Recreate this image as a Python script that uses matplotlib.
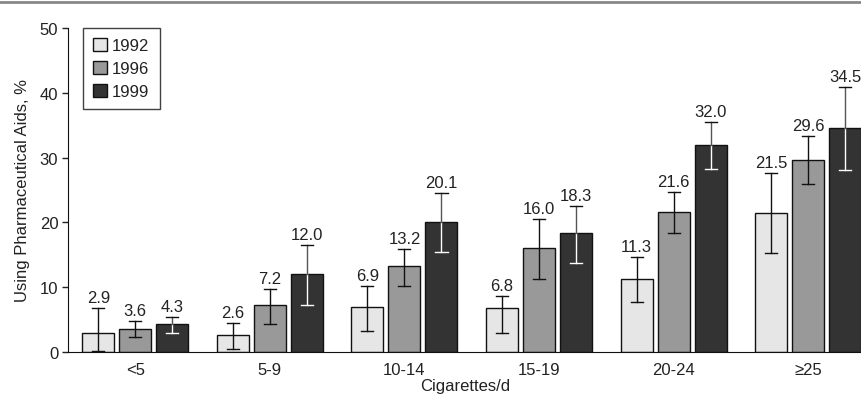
import matplotlib
matplotlib.use("Agg")
import matplotlib.pyplot as plt
import numpy as np
from matplotlib.lines import Line2D
from matplotlib.patches import Patch

plt.rcParams["font.family"] = ["Liberation Sans", "DejaVu Sans"]

categories = ["<5", "5-9", "10-14", "15-19", "20-24", "≥25"]
years = ["1992", "1996", "1999"]

pct_1992 = [2.9, 2.6, 6.9, 6.8, 11.3, 21.5]
pct_1996 = [3.6, 7.2, 13.2, 16.0, 21.6, 29.6]
pct_1999 = [4.3, 12.0, 20.1, 18.3, 32.0, 34.5]

# 95% CI bounds
low_1992 = [0.1, 0.5, 3.2, 2.9, 7.7, 15.3]
high_1992 = [6.8, 4.5, 10.2, 8.6, 14.7, 27.6]
low_1996 = [2.3, 4.3, 10.2, 11.3, 18.4, 25.9]
high_1996 = [4.8, 9.7, 15.9, 20.5, 24.7, 33.3]
low_1999 = [2.9, 7.3, 15.4, 13.7, 28.2, 28.1]
high_1999 = [5.4, 16.5, 24.5, 22.5, 35.5, 40.9]

series = [
    (pct_1992, low_1992, high_1992, "#e6e6e6"),
    (pct_1996, low_1996, high_1996, "#999999"),
    (pct_1999, low_1999, high_1999, "#333333"),
]

fig = plt.figure(figsize=(8.62, 4.02), dpi=100)
ax = fig.add_axes([68 / 862, 49 / 402, 794 / 862, 324 / 402])

x = np.arange(len(categories))
width = 0.238
step = 0.275
text_color = "#222222"
fs = 12

for i, (vals, lo, hi, color) in enumerate(series):
    pos = x + (i - 1) * step
    ax.bar(pos, vals, width, color=color, edgecolor="#111111", linewidth=1.0,
           label=years[i], zorder=2)
    for p, v, l, h in zip(pos, vals, lo, hi):
        cap = 0.045
        if i == 2:
            # light whisker inside the dark bar, dark above it
            ax.plot([p, p], [l, v], color="white", lw=1.0, zorder=3)
            ax.plot([p - cap, p + cap], [l, l], color="white", lw=1.0, zorder=3)
            ax.plot([p, p], [v, h], color="#555555", lw=1.0, zorder=3)
            ax.plot([p - cap, p + cap], [h, h], color="#111111", lw=1.0, zorder=3)
        else:
            ax.plot([p, p], [l, h], color="#111111", lw=1.0, zorder=3)
            ax.plot([p - cap, p + cap], [l, l], color="#111111", lw=1.0, zorder=3)
            ax.plot([p - cap, p + cap], [h, h], color="#111111", lw=1.0, zorder=3)
        ax.text(p, h + 0.5, f"{v:.1f}", ha="center", va="bottom",
                fontsize=fs, color=text_color)

ax.set_xlim(-0.5, 5.4)
ax.set_ylim(0, 50)
ax.set_yticks([0, 10, 20, 30, 40, 50])
ax.set_xticks(x)
ax.set_xticklabels(categories)
ax.tick_params(axis="y", length=4, width=1, labelsize=fs, colors=text_color, pad=3)
ax.tick_params(axis="x", length=0, labelsize=fs, colors=text_color, pad=7)
for s in ["top", "right"]:
    ax.spines[s].set_visible(False)
ax.spines["left"].set_color("#111111")
ax.spines["bottom"].set_color("#111111")
ax.set_ylabel("Using Pharmaceutical Aids, %", fontsize=fs, color=text_color, labelpad=7)
ax.set_xlabel("Cigarettes/d", fontsize=fs, color=text_color, labelpad=1)

handles = [Patch(facecolor=c, edgecolor="#111111", linewidth=1.0) for _, _, _, c in series]
leg = ax.legend(handles, years, loc="upper left", bbox_to_anchor=(15 / 794, 1.0),
                frameon=True, fancybox=False, fontsize=fs, handlelength=0.85,
                handleheight=0.85, handletextpad=0.3, labelspacing=0.45,
                borderpad=0.6, borderaxespad=0.0)
leg.get_frame().set_edgecolor("#111111")
leg.get_frame().set_linewidth(1.0)
for t in leg.get_texts():
    t.set_color(text_color)

fig.add_artist(Line2D([0, 1], [1 - 3 / 402, 1 - 3 / 402], color="#888888", lw=2))

fig.savefig("out.png", dpi=100)
